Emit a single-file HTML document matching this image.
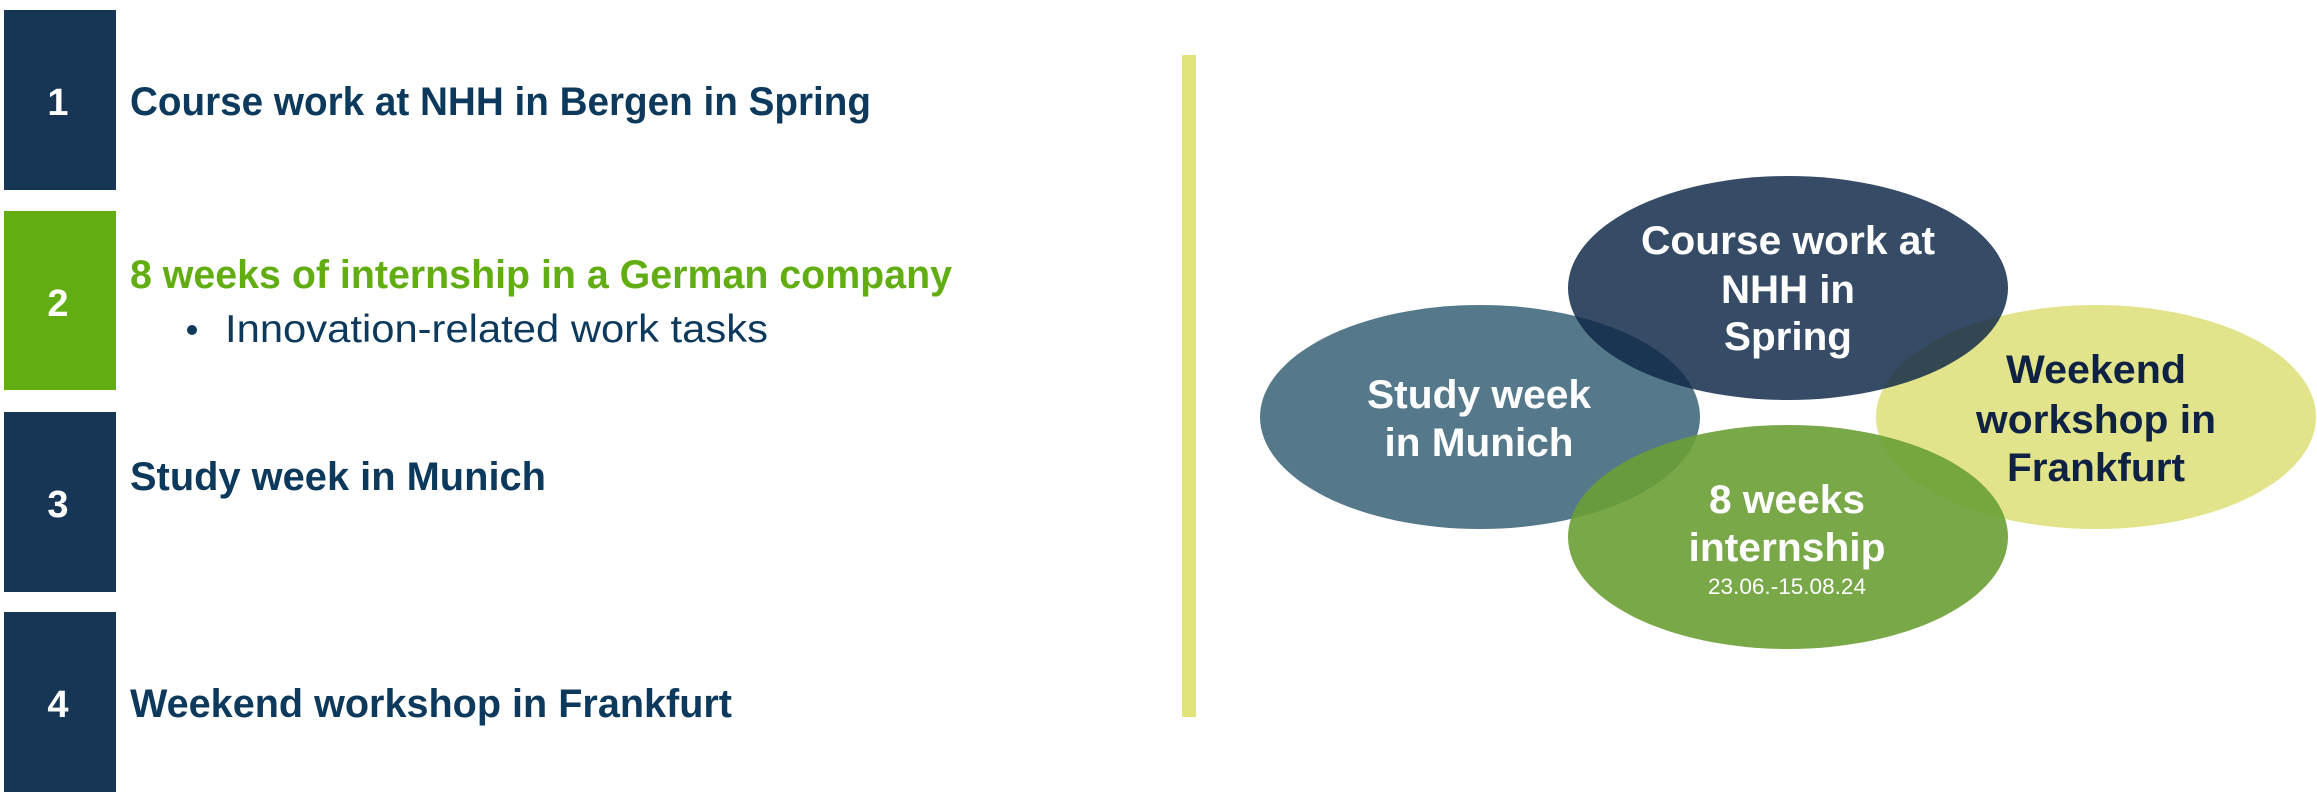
<!DOCTYPE html>
<html><head><meta charset="utf-8"><style>
html,body{margin:0;padding:0;background:#fff;}
svg{display:block;}
</style></head><body>
<svg width="2317" height="797" viewBox="0 0 2317 797" xmlns="http://www.w3.org/2000/svg">
<rect x="4" y="10" width="112" height="180" fill="#173656"/>
<rect x="4" y="211" width="112" height="179" fill="#62ae12"/>
<rect x="4" y="412" width="112" height="180" fill="#173656"/>
<rect x="4" y="612" width="112" height="180" fill="#173656"/>
<g font-family="Liberation Sans, sans-serif" font-weight="bold" font-size="38" fill="#fff" text-anchor="middle">
<text x="58" y="115">1</text><text x="58" y="316">2</text><text x="58" y="517">3</text><text x="58" y="717">4</text>
</g>
<g font-family="Liberation Sans, sans-serif" font-weight="bold" font-size="40" fill="#0d3a5c">
<text x="130" y="115" textLength="741" lengthAdjust="spacingAndGlyphs">Course work at NHH in Bergen in Spring</text>
<text x="130" y="288" textLength="822" lengthAdjust="spacingAndGlyphs" fill="#62ae12">8 weeks of internship in a German company</text>
<text x="130" y="490" textLength="416" lengthAdjust="spacingAndGlyphs">Study week in Munich</text>
<text x="130" y="717" textLength="602" lengthAdjust="spacingAndGlyphs">Weekend workshop in Frankfurt</text>
</g>
<circle cx="192" cy="330" r="5" fill="#0d3a5c"/>
<text x="225" y="342" font-family="Liberation Sans, sans-serif" font-size="39" fill="#0d3a5c" textLength="543" lengthAdjust="spacingAndGlyphs">Innovation-related work tasks</text>
<rect x="1182" y="55" width="14" height="662" fill="#e1e47a"/>
<ellipse cx="1480" cy="417" rx="220" ry="112" fill="#55798a"/>
<ellipse cx="2096" cy="417" rx="220" ry="112" fill="#e2e48b"/>
<ellipse cx="1788" cy="288" rx="220" ry="112" fill="#0f2848" fill-opacity="0.84"/>
<ellipse cx="1788" cy="537" rx="220" ry="112" fill="#6a9e35" fill-opacity="0.9"/>
<g font-family="Liberation Sans, sans-serif" font-weight="bold" font-size="40" fill="#fff" text-anchor="middle">
<text x="1788" y="254" textLength="294" lengthAdjust="spacingAndGlyphs">Course work at</text>
<text x="1788" y="303" textLength="134" lengthAdjust="spacingAndGlyphs">NHH in</text>
<text x="1788" y="350" textLength="128" lengthAdjust="spacingAndGlyphs">Spring</text>
<text x="1479" y="408" textLength="224" lengthAdjust="spacingAndGlyphs">Study week</text>
<text x="1479" y="456" textLength="189" lengthAdjust="spacingAndGlyphs">in Munich</text>
<text x="1787" y="513" textLength="156" lengthAdjust="spacingAndGlyphs">8 weeks</text>
<text x="1787" y="561" textLength="197" lengthAdjust="spacingAndGlyphs">internship</text>
<g fill="#0f2244">
<text x="2096" y="383" textLength="180" lengthAdjust="spacingAndGlyphs">Weekend</text>
<text x="2096" y="433" textLength="240" lengthAdjust="spacingAndGlyphs">workshop in</text>
<text x="2096" y="481" textLength="178" lengthAdjust="spacingAndGlyphs">Frankfurt</text>
</g>
</g>
<text x="1787" y="594" font-family="Liberation Sans, sans-serif" font-size="22" fill="#fff" text-anchor="middle" textLength="158" lengthAdjust="spacingAndGlyphs">23.06.-15.08.24</text>
</svg>
</body></html>
